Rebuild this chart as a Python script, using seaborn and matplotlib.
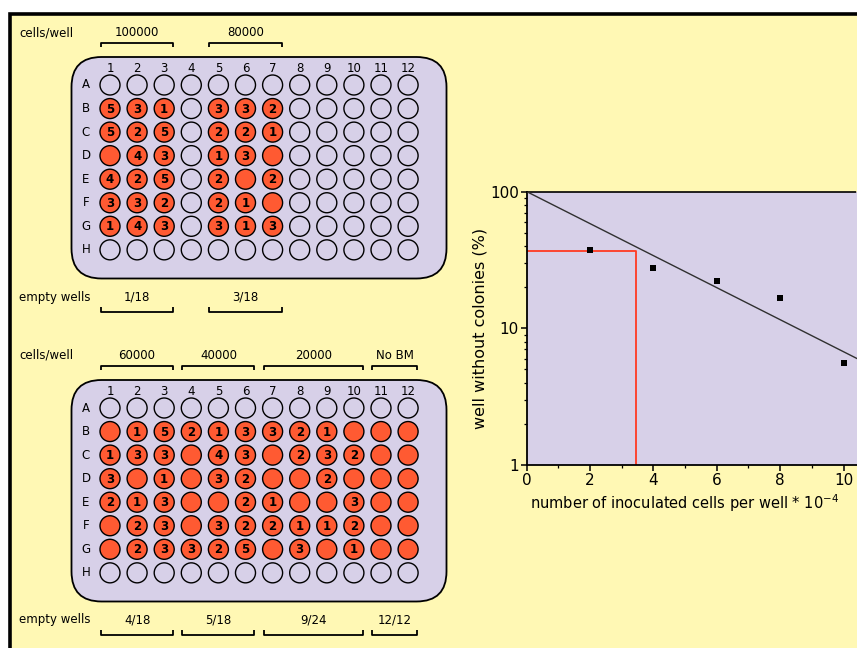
import numpy as np
import pandas as pd
import matplotlib
matplotlib.use("Agg")
import matplotlib.pyplot as plt
from matplotlib.patches import FancyBboxPatch, Ellipse, Rectangle
from matplotlib.ticker import FixedLocator, LogLocator, NullFormatter
import seaborn as sns

# Limiting-dilution plates: one string per row (A-H), one character per column (1-12)
# '.' = no cells seeded, '0' = seeded well without colonies, '1'-'9' = colonies counted
plate1_rows = [
    "............",
    "531.332.....",
    "525.221.....",
    "043.130.....",
    "425.202.....",
    "332.210.....",
    "143.313.....",
    "............",
]
plate2_rows = [
    "............",
    "015213321000",
    "133043023200",
    "301032002000",
    "213002100300",
    "023032211200",
    "023325030100",
    "............",
]
row_names = list("ABCDEFGH")
col_names = [str(i) for i in range(1, 13)]

# Inoculum groups (cells/well), their column ranges and the empty-well tallies
plate1_groups = ["100000", "80000"]
plate1_spans = [(1, 3), (5, 7)]
plate1_empty = ["1/18", "3/18"]
plate2_groups = ["60000", "40000", "20000", "No BM"]
plate2_spans = [(1, 3), (4, 6), (7, 10), (11, 12)]
plate2_empty = ["4/18", "5/18", "9/24", "12/12"]

# Reading of the 37 % (1/e) point on the fitted line
guide_x = 3.45
guide_y = 37.0

# ---------------------------------------------------------------- colours
YELLOW = "#FFF8B4"
LAVENDER = "#D7D0E8"
ORANGE = "#FF5A32"
RED = "#FF3A22"

sns.set_style("ticks")
plt.rcParams["font.family"] = ["DejaVu Sans"]
plt.rcParams.update({"text.color": "black", "axes.labelcolor": "black",
                     "xtick.color": "black", "ytick.color": "black",
                     "axes.edgecolor": "black"})

fig = plt.figure(figsize=(8.57, 6.48), dpi=100, facecolor="white")

# Pixel-space canvas for the panel and the two plates
bg = fig.add_axes([0, 0, 1, 1], zorder=0)
bg.set_xlim(0, 857)
bg.set_ylim(648, 0)
bg.axis("off")
bg.add_patch(Rectangle((10, 14), 900, 700, facecolor=YELLOW,
                       edgecolor="black", linewidth=2.6))

COL0, COLSTEP = 110.0, 27.1
FS = 8.5


def col_x(c):
    return COL0 + COLSTEP * (c - 1)


def draw_plate(rows, groups, spans, empties, top):
    # plate body
    bg.add_patch(FancyBboxPatch((71.5, top + 43.5), 375, 221.5,
                                boxstyle="round,pad=0,rounding_size=30",
                                facecolor=LAVENDER, edgecolor="black",
                                linewidth=1.3))
    row0 = top + 71.5
    rowstep = 23.55
    for c, name in enumerate(col_names, start=1):
        bg.text(col_x(c), top + 55, name, ha="center", va="center",
                fontsize=FS)
    for r, name in enumerate(row_names):
        y = row0 + rowstep * r
        bg.text(86, y, name, ha="center", va="center", fontsize=FS)
        for c, ch in enumerate(rows[r], start=1):
            x = col_x(c)
            seeded = ch != "."
            bg.add_patch(Ellipse((x, y), 20, 20,
                                 facecolor=ORANGE if seeded else "none",
                                 edgecolor="black", linewidth=1.0))
            if seeded and ch != "0":
                bg.text(x, y + 0.5, ch, ha="center", va="center",
                        fontsize=FS, fontweight="bold")
    # labels and brackets
    bg.text(19, top + 19, "cells/well", ha="left", va="center", fontsize=FS)
    bg.text(19, top + 283.5, "empty wells", ha="left", va="center", fontsize=FS)
    for g, (c1, c2), e in zip(groups, spans, empties):
        x1, x2 = col_x(c1) - 9, col_x(c2) + 9
        xm = (x1 + x2) / 2
        bg.text(xm, top + 19, g, ha="center", va="center", fontsize=FS)
        bg.plot([x1, x1, x2, x2], [top + 33.5, top + 29, top + 29, top + 33.5],
                color="black", lw=1.3, solid_capstyle="butt")
        bg.text(xm, top + 283.5, e, ha="center", va="center", fontsize=FS)
        bg.plot([x1, x1, x2, x2], [top + 293.5, top + 298, top + 298, top + 293.5],
                color="black", lw=1.3, solid_capstyle="butt")


draw_plate(plate1_rows, plate1_groups, plate1_spans, plate1_empty, 13.5)
draw_plate(plate2_rows, plate2_groups, plate2_spans, plate2_empty, 336.5)

# ---------------------------------------------------------------- survival plot
records = []
for groups, empties in ((plate1_groups, plate1_empty), (plate2_groups, plate2_empty)):
    for g, e in zip(groups, empties):
        if g.isdigit():
            n, d = (int(v) for v in e.split("/"))
            records.append({"cells": int(g) / 1e4, "pct": 100.0 * n / d})
df = pd.DataFrame(records).sort_values("cells")

# single-hit Poisson fit through 100 % at zero cells
dec = np.log10(df["pct"] / 100.0)
slope = (df["cells"] * dec).sum() / (df["cells"] ** 2).sum()
fit = pd.DataFrame({"cells": [0.0, 11.0]})
fit["pct"] = 100.0 * 10 ** (slope * fit["cells"])

x0_px, x_unit = 526.5, 31.7
ax = fig.add_axes([x0_px / 857, 1 - 465 / 648, 1 - x0_px / 857, (465 - 191.5) / 648],
                  zorder=2)
ax.set_facecolor(LAVENDER)
ax.set_yscale("log")
ax.set_xlim(0, (857 - x0_px) / x_unit)
ax.set_ylim(1, 100)

ax.plot([0, guide_x, guide_x], [guide_y, guide_y, 1], color=RED, lw=1.3, zorder=2)
sns.lineplot(data=fit, x="cells", y="pct", ax=ax, color="#303030", lw=1.0,
             zorder=3)
sns.scatterplot(data=df, x="cells", y="pct", ax=ax, marker="s", s=14,
                color="black", edgecolor="black", linewidth=0, zorder=4)

ax.xaxis.set_major_locator(FixedLocator([0, 2, 4, 6, 8, 10]))
ax.xaxis.set_minor_locator(FixedLocator([1, 3, 5, 7, 9]))
ax.yaxis.set_major_locator(FixedLocator([1, 10, 100]))
ax.yaxis.set_minor_locator(LogLocator(base=10, subs=np.arange(2, 10)))
ax.yaxis.set_minor_formatter(NullFormatter())
ax.set_yticklabels(["1", "10", "100"])
ax.tick_params(which="major", length=4, width=1.1, labelsize=11, pad=1.5)
ax.tick_params(which="minor", length=2.5, width=0.9)
ax.set_xlabel("")
ax.set_ylabel("well without colonies (%)", fontsize=11.5, labelpad=2)
for s in ("left", "bottom"):
    ax.spines[s].set_linewidth(1.3)
ax.spines["top"].set_linestyle((0, (1, 1)))
ax.spines["top"].set_linewidth(1.2)
ax.spines["right"].set_visible(False)

fig.text(530 / 857, 1 - 503 / 648,
         "number of inoculated cells per well * 10$^{-4}$",
         ha="left", va="center", fontsize=10.5)

fig.savefig("out.png", dpi=100, facecolor="white")
